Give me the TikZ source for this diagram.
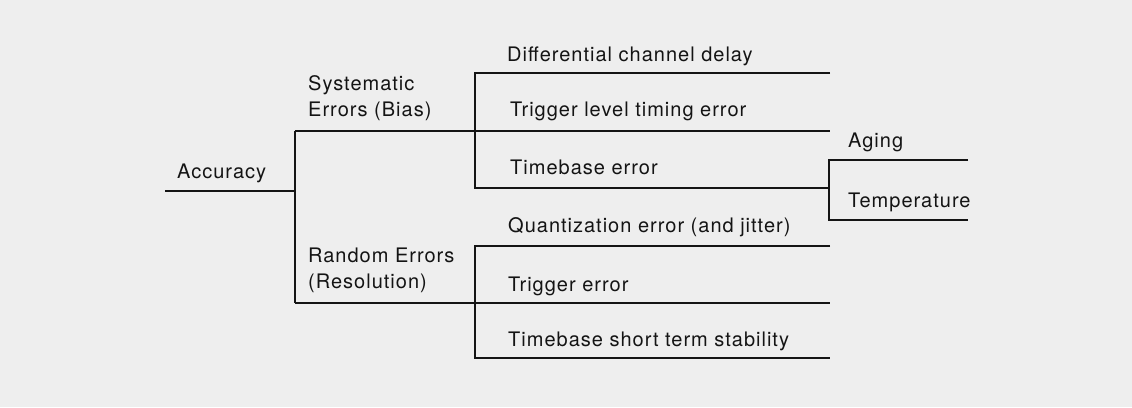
\documentclass[tikz,border=0pt]{standalone}
\usepackage{fontspec}
\setmainfont{TeX Gyre Heros}[LetterSpace=5]

\begin{document}
\begin{tikzpicture}[x=1pt, y=-1pt,
            term/.style={anchor=base west, inner sep=0pt, align=left, font=\fontsize{20}{25.5}\selectfont, text=black!92},
            branch/.style={line width=2.2pt, draw=black!92}
        ]

% Background
            \fill [gray!13] (0,0) rectangle (1132,407);

% Junction points of the tree
            \coordinate (accStart) at (165,191);
            \coordinate (split) at (295,191);
            \coordinate (sys) at (295,131);
            \coordinate (rnd) at (295,303);

            \coordinate (sysSplit) at (475,131);
            \coordinate (sysTop) at (475,73);
            \coordinate (sysBot) at (475,188);
            \coordinate (sysTopEnd) at (830,73);
            \coordinate (sysEnd) at (830,131);

            \coordinate (tbSplit) at (829,188);
            \coordinate (tbTop) at (829,160);
            \coordinate (tbBot) at (829,220);
            \coordinate (agingEnd) at (968,160);
            \coordinate (tempEnd) at (968,220);

            \coordinate (rndSplit) at (475,303);
            \coordinate (rndTop) at (475,246);
            \coordinate (rndBot) at (475,358);
            \coordinate (rndTopEnd) at (830,246);
            \coordinate (rndEnd) at (830,303);
            \coordinate (rndBotEnd) at (830,358);

% Branches
            \draw [branch] (accStart) -- (split);
            \draw [branch] (sys) -- (rnd);
            \draw [branch] (sys) -- (sysEnd);
            \draw [branch] (sysTopEnd) -- (sysTop) -- (sysBot) -- (tbSplit);
            \draw [branch] (agingEnd) -- (tbTop) -- (tbBot) -- (tempEnd);
            \draw [branch] (rnd) -- (rndEnd);
            \draw [branch] (rndTopEnd) -- (rndTop) -- (rndBot) -- (rndBotEnd);

% Labels (two-line labels sit on the baseline of their last line)
            \node (accuracy) [term] at (177,178) {Accuracy};
            \node (systematic) [term] at (308,116) {Systematic\\Errors (Bias)};
            \node (random) [term] at (308,288) {Random Errors\\(Resolution)};

            \node (delay) [term] at (507,61) {Differential channel delay};
            \node (trigLevel) [term] at (510,116) {Trigger level timing error};
            \node (timebase) [term] at (510,174) {Timebase error};
            \node (aging) [term] at (848,147) {Aging};
            \node (temp) [term] at (848,207) {Temperature};

            \node (quant) [term] at (508,232) {Quantization error (and jitter)};
            \node (trigger) [term] at (508,291) {Trigger error};
            \node (stability) [term] at (508,346) {Timebase short term stability};

        \end{tikzpicture}
\end{document}
